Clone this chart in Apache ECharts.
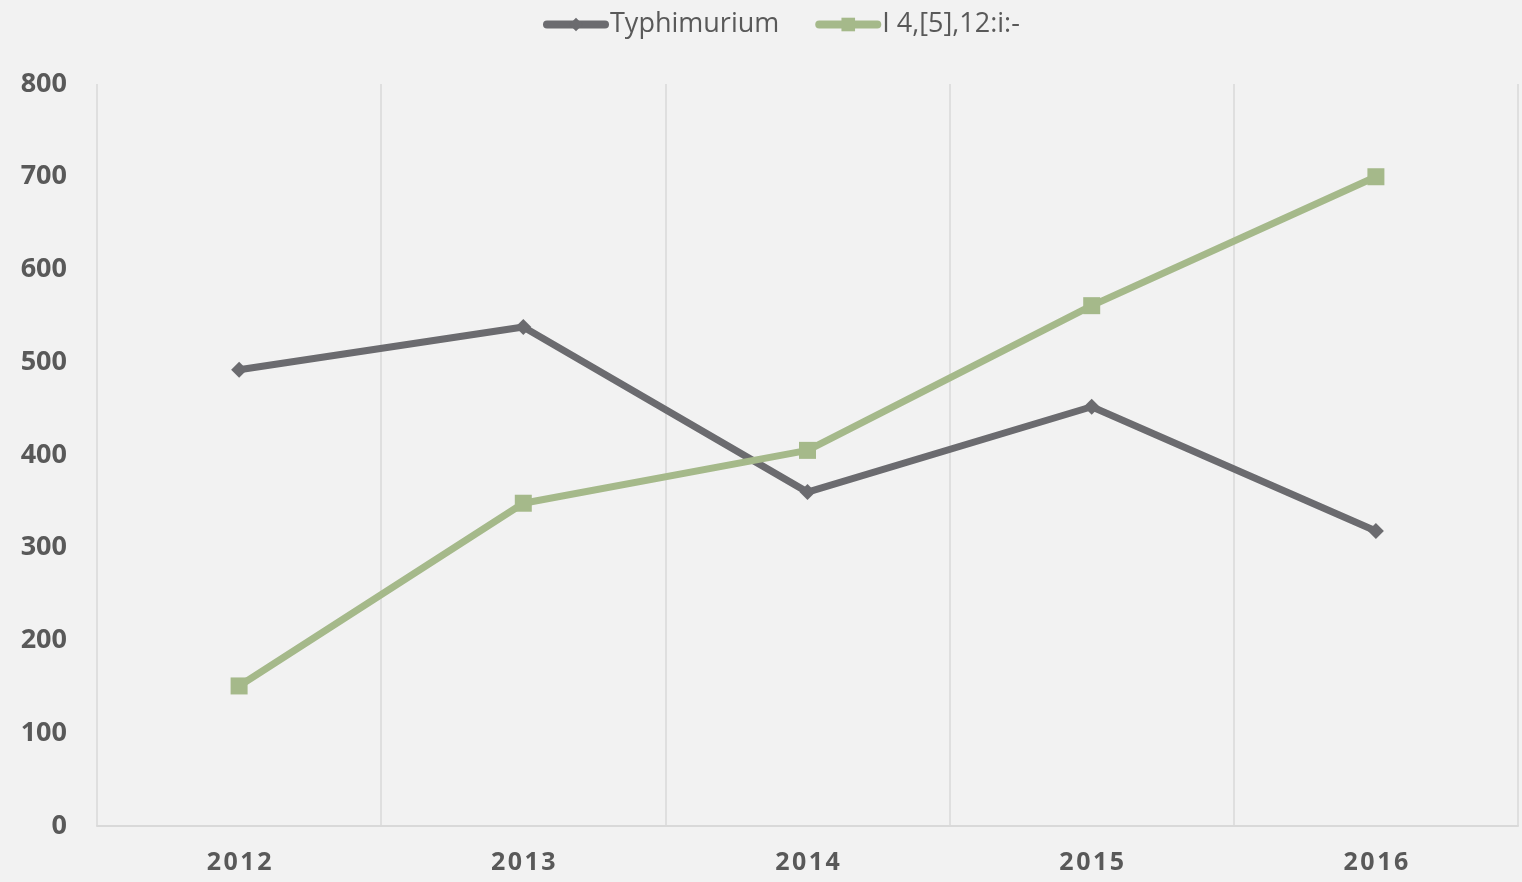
<!DOCTYPE html>
<html>
<head>
<meta charset="utf-8">
<script src="https://cdn.jsdelivr.net/npm/echarts@6/dist/echarts.min.js"></script>
<style>
  html, body { margin: 0; padding: 0; background: #f2f2f2; }
  #chart { width: 1522px; height: 882px; }
</style>
</head>
<body>
<div id="chart"></div>
<script>
const years = ["2012", "2013", "2014", "2015", "2016"];
const typhimurium = [492, 538, 360, 452, 318];
const monophasic = [151, 348, 405, 561, 700];

const chart = echarts.init(document.getElementById("chart"), null, { renderer: "canvas" });

const option = {
  backgroundColor: "#f2f2f2",
  textStyle: { fontFamily: "Open Sans" },
  legend: {
    top: 6,
    left: 538,
    itemWidth: 58,
    itemHeight: 17,
    itemGap: 36,
    itemStyle: { borderWidth: 0 },
    lineStyle: { width: 8, cap: "round" },
    textStyle: { fontSize: 27, color: "#595959", fontFamily: "Open Sans" },
  },
  grid: { left: 97, right: 4, top: 84, bottom: 56, containLabel: false },
  xAxis: {
    type: "category",
    data: years,
    boundaryGap: true,
    axisLine: { show: true, lineStyle: { color: "#d9d9d9", width: 2 } },
    axisTick: { show: false },
    splitLine: { show: true, lineStyle: { color: "#d9d9d9", width: 1.5 } },
    axisLabel: {
      fontSize: 25,
      fontWeight: "bold",
      color: "#595959",
      margin: 24,
      formatter: (v) => v.split("").join("\u200a"),
    },
  },
  yAxis: {
    type: "value",
    min: 0,
    max: 800,
    interval: 100,
    axisLine: { show: false },
    axisTick: { show: false },
    splitLine: { show: false },
    axisLabel: {
      fontSize: 27,
      fontWeight: "bold",
      color: "#595959",
      margin: 30,
    },
  },
  series: [
    {
      name: "Typhimurium",
      type: "line",
      data: typhimurium,
      symbol: "diamond",
      symbolSize: 16,
      lineStyle: { width: 7, color: "#6b6b6f" },
      itemStyle: { color: "#6b6b6f" },
    },
    {
      name: "I 4,[5],12:i:-",
      type: "line",
      data: monophasic,
      symbol: "rect",
      symbolSize: 17,
      lineStyle: { width: 7, color: "#a5b98a" },
      itemStyle: { color: "#a5b98a" },
    },
  ],
};

chart.setOption(option, true);
</script>
</body>
</html>
